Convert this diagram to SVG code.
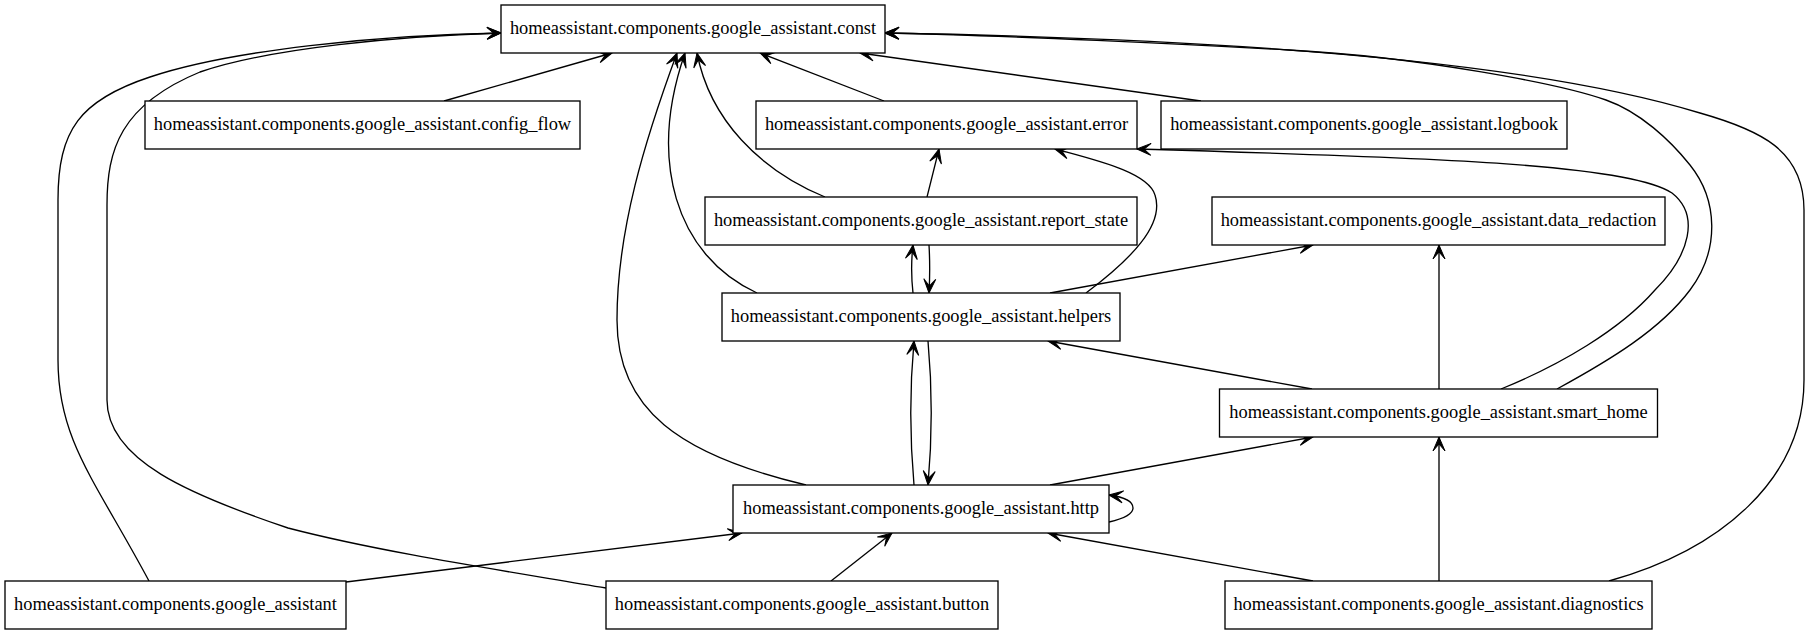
<svg xmlns="http://www.w3.org/2000/svg" width="1809" height="635" viewBox="0 0 1809 635">
<style>
.node rect{fill:#fff;stroke:#000;stroke-width:1.33}
.node text{font-family:"Liberation Serif","Times New Roman",serif;font-size:18.4px;text-anchor:middle;fill:#000}
.edges path{fill:none;stroke:#000;stroke-width:1.33;marker-end:url(#vee)}
.edges path.nomark{marker-end:none}
</style>
<defs>
<marker id="vee" markerUnits="userSpaceOnUse" viewBox="-15 -7 16 14" refX="0" refY="0" markerWidth="16" markerHeight="14" orient="auto">
<path d="M0,0 L-14,-6 L-7,0 L-14,6 Z" fill="#000" stroke="#000" stroke-width="1"/>
</marker>
</defs>
<rect x="0" y="0" width="1809" height="635" fill="#fff"/>
<g class="edges">
<path d="M444,101 L612,53"/>
<path d="M884,101 L760,53"/>
<path d="M1201,101 L860,53"/>
<path d="M825,197 C760,170 710,120 697,53"/>
<path d="M927,197 L939,149"/>
<path d="M757,293 C675,255 648,160 685,53"/>
<path d="M806,485 C680,455 617,410 617,320 C617,230 645,140 677,53"/>
<path d="M149,581 C95,480 58,440 58,360 L58,200 C58,130 80,100 150,77 C230,50 380,35 501,33"/>
<path d="M606,588 C500,570 380,552 288,528 C190,495 107,460 107,400 L107,205 C107,150 120,105 200,72 C270,48 400,36 501,33"/>
<path d="M1557,389 C1610,360 1660,330 1690,290 C1720,250 1718,200 1690,165 C1670,140 1640,112 1606,100 C1561,84 1420,57 1289,50 C1200,45 1000,35 885,33"/>
<path d="M1609,581 C1720,550 1804,480 1804,380 L1804,210 C1804,150 1760,130 1700,113 C1560,70 1300,40 885,33"/>
<path d="M1501,389 C1560,365 1620,330 1655,290 C1690,255 1700,215 1672,193 C1630,165 1450,158 1137,149"/>
<path d="M1086,293 C1130,260 1165,225 1155,195 C1148,172 1095,160 1055,149"/>
<path d="M913,293 C911,275 911,262 913,245"/>
<path d="M929,245 C930,262 930,275 929,293"/>
<path d="M1050,293 L1313,245"/>
<path d="M1439,389 L1439,245"/>
<path d="M1312,389 L1048,341"/>
<path d="M1050,485 L1313,437"/>
<path d="M914,485 C910,440 910,385 914,341"/>
<path d="M928,341 C932,385 932,440 928,485"/>
<path d="M1109,522 C1122,519 1133,515 1133,508 C1133,501 1124,497 1109,495"/>
<path d="M1313,581 L1048,533"/>
<path d="M1439,581 L1439,437"/>
<path d="M831,581 L892,533"/>
<path d="M346,582 L742,533"/>
</g>
<g id="const" class="node"><rect x="501" y="5" width="384" height="48"/><text x="693" y="34">homeassistant.components.google_assistant.const</text></g>
<g id="config_flow" class="node"><rect x="145" y="101" width="435" height="48"/><text x="362.5" y="130">homeassistant.components.google_assistant.config_flow</text></g>
<g id="error" class="node"><rect x="756" y="101" width="381" height="48"/><text x="946.5" y="130">homeassistant.components.google_assistant.error</text></g>
<g id="logbook" class="node"><rect x="1161" y="101" width="406" height="48"/><text x="1364" y="130">homeassistant.components.google_assistant.logbook</text></g>
<g id="report_state" class="node"><rect x="705" y="197" width="432" height="48"/><text x="921" y="226">homeassistant.components.google_assistant.report_state</text></g>
<g id="data_redaction" class="node"><rect x="1212" y="197" width="453" height="48"/><text x="1438.5" y="226">homeassistant.components.google_assistant.data_redaction</text></g>
<g id="helpers" class="node"><rect x="722" y="293" width="398" height="48"/><text x="921" y="322">homeassistant.components.google_assistant.helpers</text></g>
<g id="smart_home" class="node"><rect x="1219.5" y="389" width="438" height="48"/><text x="1438.5" y="418">homeassistant.components.google_assistant.smart_home</text></g>
<g id="http" class="node"><rect x="733" y="485" width="376" height="48"/><text x="921" y="514">homeassistant.components.google_assistant.http</text></g>
<g id="google_assistant" class="node"><rect x="5" y="581" width="341" height="48"/><text x="175.5" y="610">homeassistant.components.google_assistant</text></g>
<g id="button" class="node"><rect x="606" y="581" width="392" height="48"/><text x="802" y="610">homeassistant.components.google_assistant.button</text></g>
<g id="diagnostics" class="node"><rect x="1225" y="581" width="427" height="48"/><text x="1438.5" y="610">homeassistant.components.google_assistant.diagnostics</text></g>
</svg>
